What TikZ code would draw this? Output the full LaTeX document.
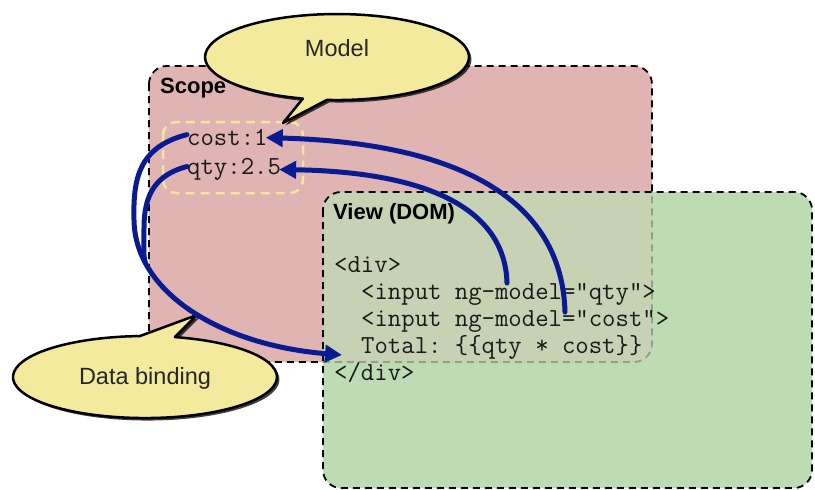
\documentclass[tikz,border=0pt]{standalone}
\usepackage{fontspec}
\setmainfont{Liberation Sans}
\usetikzlibrary{arrows.meta}
\frenchspacing
\definecolor{scopepink}{HTML}{DFB4B2}
\definecolor{viewgreen}{HTML}{BDDCB3}
\definecolor{overlapcol}{HTML}{C6D2B3}
\definecolor{bubblefill}{HTML}{F4EA9E}
\definecolor{navy}{HTML}{0A1A90}
\definecolor{dashyellow}{HTML}{F3E6A0}
\begin{document}
\begin{tikzpicture}[x=1pt,y=-1pt,
  areabox/.style={line width=1.8pt, dash pattern=on 7pt off 5pt, rounded corners=18pt},
  bubbleshape/.style={fill=bubblefill, draw=black, line width=2.5pt, line join=round},
  bubbleshadow/.style={fill=black, opacity=0.75},
  codeline/.style={anchor=mid west, inner sep=0pt, font=\ttfamily\fontsize{26}{27}\selectfont, text=black!90},
  boxtitle/.style={anchor=mid west, inner sep=0pt, font=\bfseries\fontsize{22}{26}\selectfont},
  bubbletext/.style={inner sep=0pt, font=\fontsize{23.5}{28}\selectfont, text=black!85},
  link/.style={draw=navy, line width=5pt, line cap=round},
  linkarrow/.style={-{Triangle[length=17pt,width=17pt]}}
]
\useasboundingbox (0,0) rectangle (815,490);
\def\scoperect{(149,66) rectangle (652,362)}
\def\viewrect{(323,192) rectangle (812,488)}

% Scope box
\fill[areabox, scopepink] \scoperect;
\draw[areabox, black] \scoperect;
% model dashed box
\draw[draw=dashyellow, line width=2.5pt, dash pattern=on 9pt off 6pt, rounded corners=13pt] (163,122) rectangle (303,193);
% View box
\fill[areabox, viewgreen] \viewrect;
\begin{scope}
  \clip[rounded corners=18pt] \scoperect;
  \fill[areabox, overlapcol] \viewrect;
\end{scope}
\begin{scope}
  \clip[rounded corners=18pt] \viewrect;
  \draw[areabox, black, opacity=0.25] \scoperect;
\end{scope}
\draw[areabox, black] \viewrect;

% Model bubble
\def\modelpath{(326.9,99.9) arc[start angle=94.4, end angle=-255, x radius=132, y radius=43] -- (283,123) -- cycle}
\fill[bubbleshadow, shift={(2.5,2.5)}] \modelpath;
\path[bubbleshape] \modelpath;
\node[bubbletext] (model) at (337,48) {Model};

% Data binding bubble
\def\bindpath{(174.9,337.1) arc[start angle=283.1, end angle=627.8, x radius=132, y radius=41] -- (197,315) -- cycle}
\fill[bubbleshadow, shift={(2.5,2.5)}] \bindpath;
\path[bubbleshape] \bindpath;
\node[bubbletext] (binding) at (145,378) {Data binding};

% titles
\node[boxtitle] (scope) at (160,91) {Scope};
\node[boxtitle] (view) at (333,217) {View (DOM)};

% model values
\node[codeline] (cost) at (187,143) {cost:1};
\node[codeline] (qty) at (187,172) {qty:2.5};

% code
\node[codeline] (div1) at (334,270) {<div>};
\node[codeline] (in1) at (361,297) {<input ng-model="qty">};
\node[codeline] (in2) at (361,324) {<input ng-model="cost">};
\node[codeline] (tot) at (361,351) {Total: \{\{qty * cost\}\}};
\node[codeline] (div2) at (334,378) {</div>};

\coordinate (qsrc) at (507,283);
\coordinate (csrc) at (565,312);
\coordinate (ttgt) at (342,355);
\coordinate (merge) at (145,262);

% view -> model
\draw[link, linkarrow] (qsrc) .. controls (505,210) and (430,172) .. ([xshift=-2pt]qty.east);
\draw[link, linkarrow] (csrc) .. controls (562,200) and (460,143) .. ([xshift=-2pt]cost.east);
% model -> view
\draw[link] ([yshift=3pt]qty.west) .. controls (155,175) and (144,195) .. (144,228)
   .. controls (144,245) and (143,252) .. (merge);
\draw[link, linkarrow] ([yshift=3pt]cost.west) .. controls (138,147) and (133,180) .. (134,220)
   .. controls (135,292) and (220,345) .. (ttgt);
\end{tikzpicture}
\end{document}
